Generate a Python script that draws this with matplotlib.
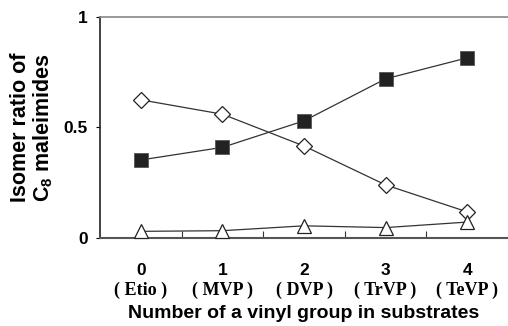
import matplotlib.pyplot as plt
from matplotlib.transforms import blended_transform_factory

# data
n_vinyl = [0, 1, 2, 3, 4]
substrates = ['( Etio )', '( MVP )', '( DVP )', '( TrVP )', '( TeVP )']
filled_sq = [0.353, 0.41, 0.53, 0.72, 0.815]
open_dia = [0.625, 0.56, 0.416, 0.24, 0.118]
open_tri = [0.03, 0.033, 0.055, 0.047, 0.072]

plt.rcParams['font.family'] = ['Liberation Sans', 'DejaVu Sans']
plt.rcParams['mathtext.fontset'] = 'custom'
plt.rcParams['mathtext.rm'] = 'Liberation Sans'
plt.rcParams['mathtext.bf'] = 'Liberation Sans:bold'

fig = plt.figure(figsize=(5.08, 3.26), dpi=100)
ax = fig.add_axes([0.197, 0.27, 0.803, 0.678])

lc = '#333333'
ax.plot(n_vinyl, filled_sq, '-s', color=lc, lw=0.9, ms=9.5,
        mfc='#222222', mec='#555555', mew=0.6, zorder=3)
ax.plot(n_vinyl, open_dia, '-D', color=lc, lw=0.9, ms=8,
        mfc='white', mec='#222222', mew=0.9, zorder=3)
ax.plot(n_vinyl, open_tri, '-^', color=lc, lw=0.9, ms=10,
        mfc='white', mec='#222222', mew=0.9, zorder=3, clip_on=False)

ax.set_xlim(-0.5, 4.5)
ax.set_ylim(0, 1)

ax.spines['right'].set_visible(False)
ax.spines['top'].set_color('#888888')
ax.spines['top'].set_linewidth(1.2)
ax.spines['left'].set_color('#222222')
ax.spines['left'].set_linewidth(1.2)
ax.spines['bottom'].set_color('#555555')
ax.spines['bottom'].set_linewidth(1.5)

ax.set_yticks([0, 0.5, 1])
ax.set_yticklabels(['0', '0.5', '1'], fontsize=12.5, fontweight='bold')
ax.tick_params(axis='y', direction='out', length=3, width=0.8, pad=6)

ax.set_xticks(n_vinyl)
ax.set_xticklabels([str(v) for v in n_vinyl], fontsize=12.5, fontweight='bold')
ax.set_xticks([v + 0.5 for v in n_vinyl[:-1]], minor=True)
ax.tick_params(axis='x', which='major', length=0, pad=18)
ax.tick_params(axis='x', which='minor', direction='in', length=5, width=0.8, color='#333333')

trans = blended_transform_factory(ax.transData, ax.transAxes)
for v, name in zip(n_vinyl, substrates):
    ax.text(v, -0.235, name, transform=trans, ha='center', va='center',
            family='Liberation Serif', fontsize=13, fontweight='bold')

ax.set_xlabel('Number of a vinyl group in substrates', fontsize=14,
              fontweight='bold')
ax.xaxis.set_label_coords(0.5, -0.305)
ax.set_ylabel('Isomer ratio of\nC$_\\mathbf{8}$ maleimides', fontsize=15.5,
              fontweight='bold', linespacing=1.05)
ax.yaxis.set_label_coords(-0.11, 0.5)

fig.savefig('out.png', dpi=100)
